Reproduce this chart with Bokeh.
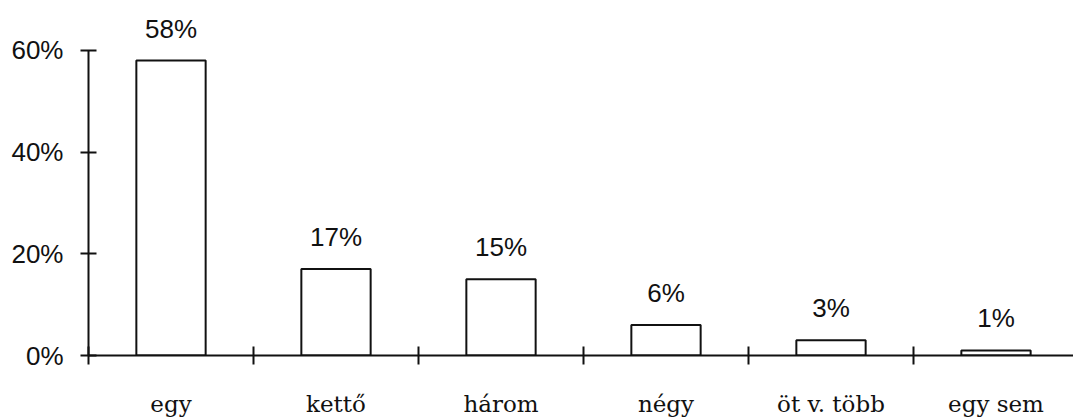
from bokeh.plotting import figure
from bokeh.models import FixedTicker, Range1d, ColumnDataSource
from bokeh.core.properties import value
from bokeh.embed import file_html
from bokeh.resources import INLINE

categories = ["egy", "kettő", "három", "négy", "öt v. több", "egy sem"]
values = [58, 17, 15, 6, 3, 1]
y_ticks = [0, 20, 40, 60]
y_tick_labels = ["0%", "20%", "40%", "60%"]

xs = [i + 0.5 for i in range(len(categories))]
labels = [f"{v}%" for v in values]
src = ColumnDataSource(dict(x=xs, top=values, label=labels))

p = figure(width=1073, height=419, output_backend="svg", toolbar_location=None,
           x_range=Range1d(0, 985 / 165), y_range=Range1d(0, 356 / 5.1),
           min_border_left=88, min_border_right=0, min_border_top=0, min_border_bottom=63)
p.outline_line_color = None
p.xgrid.visible = False
p.ygrid.visible = False
p.background_fill_color = "white"
p.border_fill_color = "white"

ink = "#111111"

p.vbar(x="x", top="top", width=0.42, bottom=0, source=src,
       fill_color="white", line_color=ink, line_width=2)
p.text(x="x", y="top", text="label", source=src, y_offset=-32,
       text_align="center", text_baseline="middle",
       text_font=value("Liberation Sans"), text_font_size="26px", text_color=ink)

# x axis
xa = p.xaxis[0]
xa.ticker = FixedTicker(ticks=xs, minor_ticks=list(range(len(categories) + 1)))
xa.major_label_overrides = {x: c for x, c in zip(xs, categories)}
xa.major_tick_line_color = None
xa.major_tick_in = 0
xa.major_tick_out = 0
xa.minor_tick_in = 9
xa.minor_tick_out = 9
xa.minor_tick_line_color = ink
xa.minor_tick_line_width = 2
xa.axis_line_color = ink
xa.axis_line_width = 2
xa.major_label_standoff = 26
xa.major_label_text_font = "DejaVu Serif"
xa.major_label_text_font_size = "23px"
xa.major_label_text_color = ink

# y axis
ya = p.yaxis[0]
ya.ticker = FixedTicker(ticks=y_ticks)
ya.major_label_overrides = {t: l for t, l in zip(y_ticks, y_tick_labels)}
ya.bounds = (0, 60)
ya.major_tick_in = 8
ya.major_tick_out = 8
ya.major_tick_line_color = ink
ya.major_tick_line_width = 2
ya.minor_tick_line_color = None
ya.axis_line_color = ink
ya.axis_line_width = 2
ya.major_label_standoff = 17
ya.major_label_text_font = "Liberation Sans"
ya.major_label_text_font_size = "26px"
ya.major_label_text_color = ink

open("out.html", "w").write(file_html(p, INLINE))
